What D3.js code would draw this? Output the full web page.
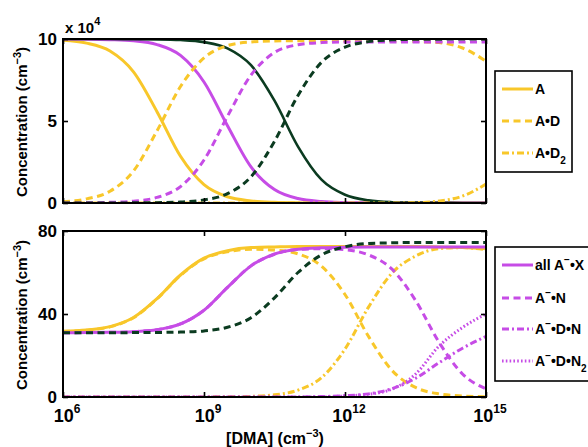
<!DOCTYPE html>
<html>
<head>
<meta charset="utf-8">
<script src="https://cdn.jsdelivr.net/npm/d3@7"></script>
<style>
  body { margin: 0; background: #fff; }
  text { font-family: "Liberation Sans", Arial, sans-serif; font-weight: bold; fill: #000; }
</style>
</head>
<body>
<svg id="chart" width="588" height="447"></svg>
<script>
// x grid: log10 of [DMA] in cm^-3
const logDMA = [6, 6.5, 7, 7.5, 8, 8.5, 9, 9.5, 10, 10.5, 11, 11.5, 12, 12.5, 13, 13.5, 14, 14.5, 15];

// top panel, units of 1e4 cm^-3
const topA      = [9.92, 9.75, 9.27, 8.0, 5.57, 2.85, 1.12, 0.38, 0.13, 0.04, 0.01, 0, 0, 0, 0, 0, 0, 0, 0];
const topAD     = [0.08, 0.25, 0.72, 1.95, 4.4, 7.1, 8.85, 9.6, 9.82, 9.88, 9.9, 9.9, 9.9, 9.9, 9.88, 9.85, 9.78, 9.45, 8.65];
const topAD2    = [0, 0, 0, 0, 0, 0, 0, 0, 0, 0, 0, 0, 0, 0, 0, 0.02, 0.12, 0.42, 1.15];
const topB      = [10, 9.99, 9.96, 9.89, 9.66, 9.0, 7.38, 4.71, 2.2, 0.82, 0.27, 0.09, 0.03, 0.01, 0, 0, 0, 0, 0];
const topBD     = [0, 0.01, 0.04, 0.11, 0.34, 1.0, 2.62, 5.29, 7.8, 9.18, 9.65, 9.78, 9.82, 9.82, 9.82, 9.82, 9.82, 9.82, 9.82];
const topC      = [10, 10, 10, 9.99, 9.98, 9.94, 9.81, 9.43, 8.4, 6.24, 3.44, 1.42, 0.5, 0.16, 0.05, 0.02, 0.01, 0, 0];
const topCD     = [0, 0, 0, 0.01, 0.02, 0.06, 0.19, 0.57, 1.6, 3.76, 6.56, 8.58, 9.5, 9.84, 9.95, 9.98, 9.99, 10, 10];

// bottom panel, cm^-3
const botAll     = [31.7, 32.3, 33.9, 38.3, 47.4, 58.8, 66.9, 70.5, 72.0, 72.3, 72.5, 72.5, 72.5, 72.5, 72.5, 72.5, 72.3, 72.0, 71.5];
const botN       = [31.6, 32.2, 33.8, 38.2, 47.3, 58.6, 66.6, 70.0, 71.2, 70.8, 69.0, 63.0, 49.4, 29.2, 12.8, 4.6, 1.5, 0.5, 0.15];
const botDN      = [0, 0, 0, 0, 0, 0, 0.05, 0.1, 0.3, 1.05, 3.3, 9.3, 23.1, 43.3, 59.7, 67.9, 71.5, 72.0, 71.0];
const botBAll    = [31.0, 31.05, 31.15, 31.5, 32.4, 35.2, 41.8, 52.8, 63.2, 68.9, 71.2, 71.9, 72.2, 72.3, 72.3, 72.3, 72.3, 72.3, 72.3];
const botBN      = [31.0, 31.05, 31.15, 31.5, 32.4, 35.2, 41.8, 52.8, 63.2, 68.8, 71.1, 71.5, 71.0, 68.5, 61.6, 46.6, 26.4, 11.1, 3.9];
const botBDN     = [0, 0, 0, 0, 0, 0, 0, 0, 0, 0, 0, 0.2, 0.6, 1.5, 4.0, 9.0, 16.5, 23.5, 29.2];
const botBDN2    = [0, 0, 0, 0, 0, 0, 0, 0, 0, 0, 0, 0, 0.5, 1.3, 3.8, 11, 24.5, 33.5, 40];
const botCN      = [31.0, 31.0, 31.0, 31.03, 31.1, 31.3, 31.85, 33.6, 38.2, 47.8, 60.0, 68.5, 72.4, 74.0, 74.3, 74.5, 74.5, 74.5, 74.5];

const xTicks = [1e6, 1e9, 1e12, 1e15];
const xTickExp = ["6", "9", "12", "15"];
const topYTicks = [0, 5, 10];
const botYTicks = [0, 40, 80];

const yellow = "#f8c72a";
const purple = "#c64ce6";
const green = "#0b3b20";

const dashes = {
  solid: null,
  dash: "7,4.5",
  dashdot: "7,3,2,3",
  dot: "1.6,2.2"
};

const svg = d3.select("#chart");

const xScale = d3.scaleLog()
  .domain([1e6, 1e15])
  .range([63, 486]);

const line = (yScale) => d3.line()
  .x(d => xScale(d[0]))
  .y(d => yScale(d[1]))
  .curve(d3.curveMonotoneX);

const toPoints = vals => vals.map((v, i) => [Math.pow(10, logDMA[i]), v]);

const drawPanel = (opts) => {
  const yScale = d3.scaleLinear()
    .domain(opts.domain)
    .range([opts.bottom, opts.top]);

  const clipId = "clip-" + opts.name;
  svg.append("clipPath")
    .attr("id", clipId)
    .append("rect")
    .attr("x", 63)
    .attr("y", opts.top)
    .attr("width", 423)
    .attr("height", opts.bottom - opts.top);

  const g = svg.append("g")
    .attr("clip-path", "url(#" + clipId + ")");

  opts.series.forEach(s => {
    g.append("path")
      .datum(toPoints(s.values))
      .attr("fill", "none")
      .attr("stroke", s.color)
      .attr("stroke-width", s.width || 3)
      .attr("stroke-dasharray", dashes[s.style])
      .attr("d", line(yScale));
  });

  // frame
  svg.append("rect")
    .attr("x", 63)
    .attr("y", opts.top)
    .attr("width", 423)
    .attr("height", opts.bottom - opts.top)
    .attr("fill", "none")
    .attr("stroke", "#000")
    .attr("stroke-width", 2);

  // inward ticks
  const xAxisB = d3.axisBottom(xScale).tickValues(xTicks).tickSize(-5).tickFormat("");
  const xAxisT = d3.axisTop(xScale).tickValues(xTicks).tickSize(-5).tickFormat("");
  const yAxisL = d3.axisLeft(yScale).tickValues(opts.yTicks).tickSize(-5).tickPadding(6);
  const yAxisR = d3.axisRight(yScale).tickValues(opts.yTicks).tickSize(-5).tickFormat("");

  [
    svg.append("g").attr("transform", "translate(0," + opts.bottom + ")").call(xAxisB),
    svg.append("g").attr("transform", "translate(0," + opts.top + ")").call(xAxisT),
    svg.append("g").attr("transform", "translate(63,0)").call(yAxisL),
    svg.append("g").attr("transform", "translate(486,0)").call(yAxisR)
  ].forEach(a => {
    a.select(".domain").remove();
    a.selectAll(".tick line").attr("stroke", "#000").attr("stroke-width", 1.6);
    a.selectAll(".tick text")
      .style("font-size", "17px")
      .style("font-family", "Liberation Sans, Arial, sans-serif")
      .style("font-weight", "bold")
      .attr("fill", "#000");
  });

  // y label
  const lab = svg.append("text")
    .attr("transform", "translate(" + 27 + "," + ((opts.top + opts.bottom) / 2 + 1) + ") rotate(-90)")
    .attr("text-anchor", "middle")
    .style("font-size", "15px");
  lab.append("tspan").text("Concentration (cm");
  lab.append("tspan").attr("dy", -6).style("font-size", "11px").text("\u22123");
  lab.append("tspan").attr("dy", 6).text(")");

  return yScale;
};

drawPanel({
  name: "top",
  top: 39,
  bottom: 203,
  domain: [0, 10],
  yTicks: topYTicks,
  series: [
    { values: topA, color: yellow, style: "solid" },
    { values: topB, color: purple, style: "solid" },
    { values: topC, color: green, style: "solid", width: 2.6 },
    { values: topAD2, color: yellow, style: "dashdot" },
    { values: topAD, color: yellow, style: "dash" },
    { values: topBD, color: purple, style: "dash" },
    { values: topCD, color: green, style: "dash" }
  ]
});

drawPanel({
  name: "bot",
  top: 231,
  bottom: 397,
  domain: [0, 80],
  yTicks: botYTicks,
  series: [
    { values: botAll, color: yellow, style: "solid" },
    { values: botN, color: yellow, style: "dash" },
    { values: botDN, color: yellow, style: "dashdot" },
    { values: botBAll, color: purple, style: "solid" },
    { values: botBN, color: purple, style: "dash" },
    { values: botBDN, color: purple, style: "dashdot" },
    { values: botBDN2, color: purple, style: "dot" },
    { values: botCN, color: green, style: "dash" }
  ]
});

// multiplier
const mult = svg.append("text")
  .attr("x", 65)
  .attr("y", 33)
  .style("font-size", "15px");
mult.append("tspan").text("x 10");
mult.append("tspan").attr("dy", -8).style("font-size", "11px").text("4");

// x tick labels
xTicks.forEach((t, i) => {
  const lbl = svg.append("text")
    .attr("x", xScale(t) + 4)
    .attr("y", 422)
    .attr("text-anchor", "middle")
    .style("font-size", "18px");
  lbl.append("tspan").text("10");
  lbl.append("tspan").attr("dy", -9).style("font-size", "12px").text(xTickExp[i]);
});

// x label
const xl = svg.append("text")
  .attr("x", 275)
  .attr("y", 444)
  .attr("text-anchor", "middle")
  .style("font-size", "16px");
xl.append("tspan").text("[DMA] (cm");
xl.append("tspan").attr("dy", -7).style("font-size", "11px").text("\u22123");
xl.append("tspan").attr("dy", 7).text(")");

// legends
const drawLegend = (box, entries) => {
  svg.append("rect")
    .attr("x", box.x)
    .attr("y", box.y)
    .attr("width", box.w)
    .attr("height", box.h)
    .attr("fill", "#fff")
    .attr("stroke", "#000")
    .attr("stroke-width", 1.6);

  entries.forEach(e => {
    svg.append("line")
      .attr("x1", box.x + 7)
      .attr("x2", box.x + 38)
      .attr("y1", e.y)
      .attr("y2", e.y)
      .attr("stroke", e.color)
      .attr("stroke-width", 3)
      .attr("stroke-dasharray", dashes[e.style]);

    const t = svg.append("text")
      .attr("x", box.x + 40)
      .attr("y", e.y + 5)
      .style("font-size", "14px");
    e.parts.forEach(p => {
      const ts = t.append("tspan").text(p.t);
      if (p.sup) ts.attr("dy", -7).style("font-size", "10px");
      if (p.sub) ts.attr("dy", 6).style("font-size", "10px");
      if (p.back) ts.attr("dy", p.back);
    });
  });
};

drawLegend({ x: 495, y: 71, w: 77, h: 101 }, [
  { y: 89, color: yellow, style: "solid", parts: [{ t: "A" }] },
  { y: 121, color: yellow, style: "dash", parts: [{ t: "A\u2022D" }] },
  { y: 153, color: yellow, style: "dashdot", parts: [{ t: "A\u2022D" }, { t: "2", sub: true }] }
]);

drawLegend({ x: 495, y: 247, w: 110, h: 134 }, [
  { y: 265, color: purple, style: "solid", parts: [{ t: "all A" }, { t: "\u2212", sup: true }, { t: "\u2022X", back: 7 }] },
  { y: 298, color: purple, style: "dash", parts: [{ t: "A" }, { t: "\u2212", sup: true }, { t: "\u2022N", back: 7 }] },
  { y: 329, color: purple, style: "dashdot", parts: [{ t: "A" }, { t: "\u2212", sup: true }, { t: "\u2022D\u2022N", back: 7 }] },
  { y: 361, color: purple, style: "dot", parts: [{ t: "A" }, { t: "\u2212", sup: true }, { t: "\u2022D\u2022N", back: 7 }, { t: "2", sub: true }] }
]);
</script>
</body>
</html>
